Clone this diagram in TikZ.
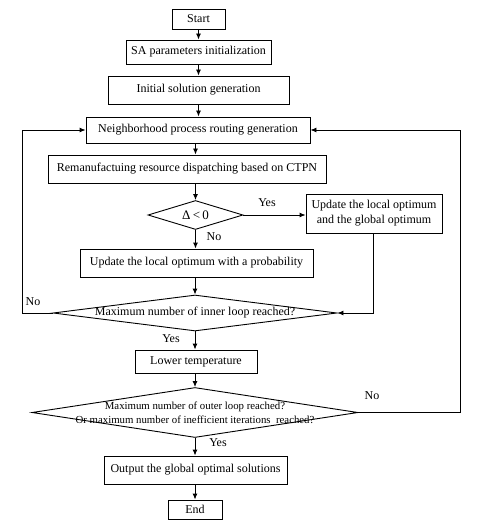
\documentclass[tikz,border=0pt]{standalone}
\usepackage{fontspec}
\setmainfont{Liberation Serif}
\usetikzlibrary{shapes.geometric,arrows.meta}
\begin{document}
\begin{tikzpicture}[x=1pt,y=-1pt,
  every node/.style={font=\fontsize{12}{15}\selectfont},
  box/.style={draw,line width=0.9pt,inner sep=0pt,align=center},
  dia/.style={draw,diamond,line width=0.9pt,inner sep=0pt},
  lbl/.style={inner sep=0pt},
  arr/.style={line width=0.9pt,-{Latex[length=6pt,width=5pt]}}]
\useasboundingbox (0,0) rectangle (485,529);
\node[box,minimum width=53pt,minimum height=20pt] (start) at (198.5,19) {Start};
\node[box,minimum width=145pt,minimum height=24pt] (sa) at (198.5,52) {SA parameters initialization};
\node[box,minimum width=181pt,minimum height=28pt] (init) at (198.5,90) {Initial solution generation};
\node[box,minimum width=224pt,minimum height=26pt] (nbr) at (198,130) {Neighborhood process routing generation};
\node[box,minimum width=278pt,minimum height=28pt] (rem) at (187,169) {Remanufactuing resource dispatching based on CTPN};
\node[dia,minimum width=95pt,minimum height=29pt] (d1) at (195.5,215) {};
\node[lbl,font=\fontsize{13}{15}\selectfont] at (d1) {Δ\,<\,0};
\node[box,minimum width=136pt,minimum height=39pt] (upd2) at (374,213.5) {Update the local optimum\\and the global optimum};
\node[box,minimum width=233pt,minimum height=28pt] (upd1) at (196.5,263) {Update the local optimum with a probability};
\node[dia,minimum width=284pt,minimum height=36pt] (d2) at (195,313) {};
\node[lbl] at (d2) {Maximum number of inner loop reached?};
\node[box,minimum width=122pt,minimum height=23pt] (low) at (196,361.5) {Lower temperature};
\node[dia,minimum width=326pt,minimum height=50pt] (d3) at (195,412.5) {};
\node[lbl,align=center,font=\fontsize{10.8}{14}\selectfont] at (d3) {Maximum number of outer loop reached?\\Or maximum number of inefficient iterations\ \ reached?};
\node[box,minimum width=183pt,minimum height=28pt] (out) at (195.5,470) {Output the global optimal solutions};
\node[box,minimum width=54pt,minimum height=19pt] (end) at (195,509.5) {End};
\coordinate (lft) at (22,130);
\coordinate (rgt) at (460,130);
\coordinate (ru) at (373,0);
\draw[arr] (start.south) -- (start.south |- sa.north);
\draw[arr] (sa.south) -- (sa.south |- init.north);
\draw[arr] (init.south) -- (init.south |- nbr.north);
\draw[arr] (nbr.south -| d1.north) -- (rem.north -| d1.north);
\draw[arr] (rem.south -| d1.north) -- (d1.north);
\draw[arr] (d1.east) -- (d1.east -| upd2.west);
\draw[arr] (d1.south) -- (d1.south |- upd1.north);
\draw[arr] (upd1.south -| d2.north) -- (d2.north);
\draw[arr] (upd2.south -| ru) |- (d2.east);
\draw[arr] (d2.west) -| (lft) -- (nbr.west);
\draw[arr] (d2.south) -- (d2.south |- low.north);
\draw[arr] (low.south -| d3.north) -- (d3.north);
\draw[arr] (d3.east) -| (rgt) -- (nbr.east);
\draw[arr] (d3.south) -- (d3.south |- out.north);
\draw[arr] (out.south -| end.north) -- (end.north);
\node[lbl] at (267,203) {Yes};
\node[lbl] at (214,237) {No};
\node[lbl] at (33,302) {No};
\node[lbl] at (171,339) {Yes};
\node[lbl] at (372,396) {No};
\node[lbl] at (218,443) {Yes};
\end{tikzpicture}
\end{document}
